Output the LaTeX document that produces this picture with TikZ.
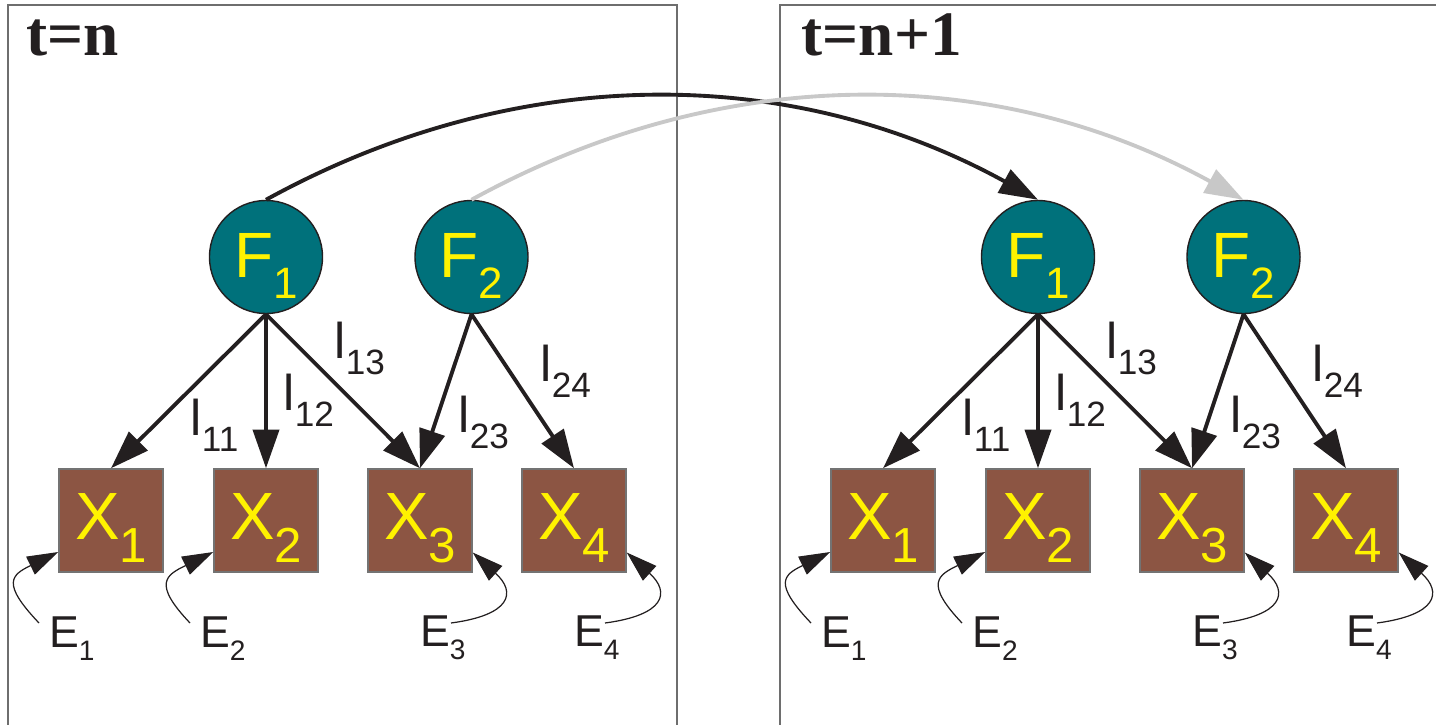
\documentclass[tikz,border=0pt]{standalone}
\usepackage{fontspec}
\setmainfont{Liberation Sans}
\newfontfamily\titlefont{Liberation Serif}
\usetikzlibrary{arrows.meta}
\definecolor{teal1}{RGB}{0,113,123}
\definecolor{brown1}{RGB}{140,85,67}
\definecolor{yell}{RGB}{255,242,0}
\definecolor{ink}{RGB}{35,31,32}
\definecolor{lgray}{RGB}{200,200,200}
\definecolor{framecol}{RGB}{110,110,110}
\newcommand{\lowsub}[3]{\raisebox{-#1}{\fontsize{#2}{#2}\selectfont #3}}
\begin{document}
\begin{tikzpicture}[x=0.01cm,y=-0.01cm,
  factor/.style={circle,draw=ink,line width=0.4pt,fill=teal1,minimum size=1.13cm,inner sep=0pt,
    text=yell,font=\fontsize{18.2}{18.2}\selectfont,text height=13pt,text depth=1.6pt},
  indicator/.style={rectangle,draw=black!55,line width=0.4pt,fill=brown1,minimum width=1.04cm,
    minimum height=1.03cm,inner sep=0pt,text=yell,font=\fontsize{19}{19}\selectfont,
    text height=13.6pt,text depth=2.6pt},
  load/.style={anchor=base west,inner sep=0pt,text=ink,font=\fontsize{14.3}{14.3}\selectfont},
  err/.style={anchor=base west,inner sep=0pt,text=ink,font=\fontsize{12.7}{12.7}\selectfont},
  title/.style={anchor=base west,inner sep=0pt,text=ink,font=\titlefont\bfseries\fontsize{18}{18}\selectfont},
  loadarrow/.style={color=ink,line width=1.1pt,-{Triangle[length=11pt,width=7.4pt]}},
  errarrow/.style={color=ink,line width=0.35pt,-{Triangle[length=8.8pt,width=5.6pt]}},
  panel/.style={draw=framecol,line width=0.5pt}
]
\useasboundingbox (0,0) rectangle (1436,724);
\clip (0,0) rectangle (1436,724);
% panels
\draw[panel] (8,5) rectangle (677,760);
\draw[panel] (780,5) rectangle (1470,760);
\node[title] (t1) at (26,55) {t=n};
\node[title] (t2) at (801,55) {t=n+1};
\foreach \p/\dx in {a/0,b/772}{
  \node[factor] (f1\p) at (266+\dx,257) {F\lowsub{6pt}{12.5}{1}};
  \node[factor] (f2\p) at (471.5+\dx,257) {F\lowsub{6pt}{12.5}{2}};
  \node[indicator] (x1\p) at (111+\dx,520.5) {X\lowsub{6.3pt}{14}{1}};
  \node[indicator] (x2\p) at (266+\dx,520.5) {X\lowsub{6.3pt}{14}{2}};
  \node[indicator] (x3\p) at (420+\dx,520.5) {X\lowsub{6.3pt}{14}{3}};
  \node[indicator] (x4\p) at (574+\dx,520.5) {X\lowsub{6.3pt}{14}{4}};
  \node[load] (l11\p) at (190+\dx,435) {l\lowsub{4.8pt}{10}{11}};
  \node[load] (l12\p) at (283+\dx,410) {l\lowsub{4.8pt}{10}{12}};
  \node[load] (l13\p) at (334+\dx,358) {l\lowsub{4.8pt}{10}{13}};
  \node[load] (l23\p) at (458+\dx,432) {l\lowsub{4.8pt}{10}{23}};
  \node[load] (l24\p) at (540+\dx,381) {l\lowsub{4.8pt}{10}{24}};
  \node[err] (e1\p) at (48.5+\dx,647) {E\lowsub{3.7pt}{8}{1}};
  \node[err] (e2\p) at (199.5+\dx,647) {E\lowsub{3.7pt}{8}{2}};
  \node[err] (e3\p) at (419.5+\dx,646) {E\lowsub{3.7pt}{8}{3}};
  \node[err] (e4\p) at (573.5+\dx,646) {E\lowsub{3.7pt}{8}{4}};
  \draw[loadarrow] (f1\p.south) -- (x1\p.north);
  \draw[loadarrow] (f1\p.south) -- (x2\p.north);
  \draw[loadarrow] (f1\p.south) -- (x3\p.north);
  \draw[loadarrow] (f2\p.south) -- (x3\p.north);
  \draw[loadarrow] (f2\p.south) -- (x4\p.north);
  \draw[errarrow] ([shift={(-9.5,-24)}]e1\p.base west) .. controls +(-38,-40) and +(-47,23) .. ([shift={(0,31.5)}]x1\p.west);
  \draw[errarrow] ([shift={(-9.5,-24)}]e2\p.base west) .. controls +(-38,-40) and +(-47,23) .. ([shift={(0,31.5)}]x2\p.west);
  \draw[errarrow] ([shift={(31.5,-23)}]e3\p.base west) .. controls +(60,-8) and +(44,40) .. ([shift={(0,32)}]x3\p.east);
  \draw[errarrow] ([shift={(31.5,-23)}]e4\p.base west) .. controls +(60,-8) and +(44,40) .. ([shift={(0,32)}]x4\p.east);
}
\draw[loadarrow] (f1a.north) .. controls +(249,-137) and +(-249,-137) .. (f1b.north);
\draw[loadarrow,color=lgray] (f2a.north) .. controls +(249,-137) and +(-249,-137) .. (f2b.north);
\end{tikzpicture}
\end{document}
